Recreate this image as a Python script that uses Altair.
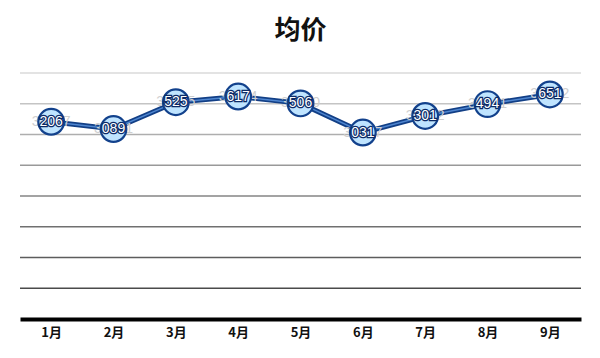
import altair as alt
import pandas as pd

months = ["1月", "2月", "3月", "4月", "5月", "6月", "7月", "8月", "9月"]
prices = [32067, 30891, 35255, 36174, 35060, 30317, 33012, 34941, 36512]
grid_values = [5000, 10000, 15000, 20000, 25000, 30000, 35000, 40000]

df = pd.DataFrame({"month": months, "price": prices})
grid_df = pd.DataFrame({"g": grid_values})

x_enc = alt.X(
    "month:N",
    sort=months,
    scale=alt.Scale(paddingInner=0, paddingOuter=0),
    axis=alt.Axis(
        title=None,
        labelAngle=0,
        ticks=False,
        grid=False,
        domainColor="#000000",
        domainWidth=4,
        labelFont="Noto Sans CJK SC",
        labelFontWeight="bold",
        labelFontSize=13,
        labelColor="#111111",
        labelPadding=7,
    ),
)
y_scale = alt.Scale(domain=[0, 40000], nice=False, zero=True)
y_enc = alt.Y("price:Q", scale=y_scale, axis=None)

grid = alt.Chart(grid_df).mark_rule(strokeWidth=1.5).encode(
    y=alt.Y("g:Q", scale=y_scale, axis=None),
    color=alt.Color(
        "g:Q",
        scale=alt.Scale(domain=[5000, 40000], range=["#4a4a4a", "#dadada"]),
        legend=None,
    ),
)

base = alt.Chart(df).encode(x=x_enc, y=y_enc)

line_outer = base.mark_line(color="#123f86", strokeWidth=5)
line_inner = base.mark_line(color="#4f86d0", strokeWidth=1.5)

label_full = base.mark_text(
    font="Liberation Sans", fontSize=14, color="#cfcfcf", baseline="middle", align="center"
).encode(text=alt.Text("price:Q", format="d"))

points = base.mark_point(
    shape="circle", filled=True, size=660, fill="#bfe4ff", stroke="#12418c", strokeWidth=2.2, opacity=1
)

mid = base.transform_calculate(mid="substring(toString(datum.price), 1, 4)")
label_shadow = mid.mark_text(
    font="Liberation Sans", fontSize=14, fill="#0b2a66", stroke="#0b2a66", strokeWidth=2.5,
    baseline="middle", align="center",
).encode(text="mid:N")
label_mid = mid.mark_text(
    font="Liberation Sans", fontSize=14, fill="#ffffff", baseline="middle", align="center"
).encode(text="mid:N")

chart = (
    alt.layer(grid, line_outer, line_inner, label_full, points, label_shadow, label_mid)
    .properties(
        width=561,
        height=246,
        title=alt.TitleParams(
            "均价",
            font="Noto Sans CJK SC",
            fontSize=26,
            fontWeight="bold",
            color="#111111",
            anchor="middle",
            offset=28,
        ),
        autosize=alt.AutoSizeParams(type="none"),
        padding={"left": 20, "top": 73, "right": 19, "bottom": 39},
        background="#ffffff",
    )
    .configure_view(stroke=None)
)

chart.save("out.html", embed_options={"renderer": "svg", "actions": False})
